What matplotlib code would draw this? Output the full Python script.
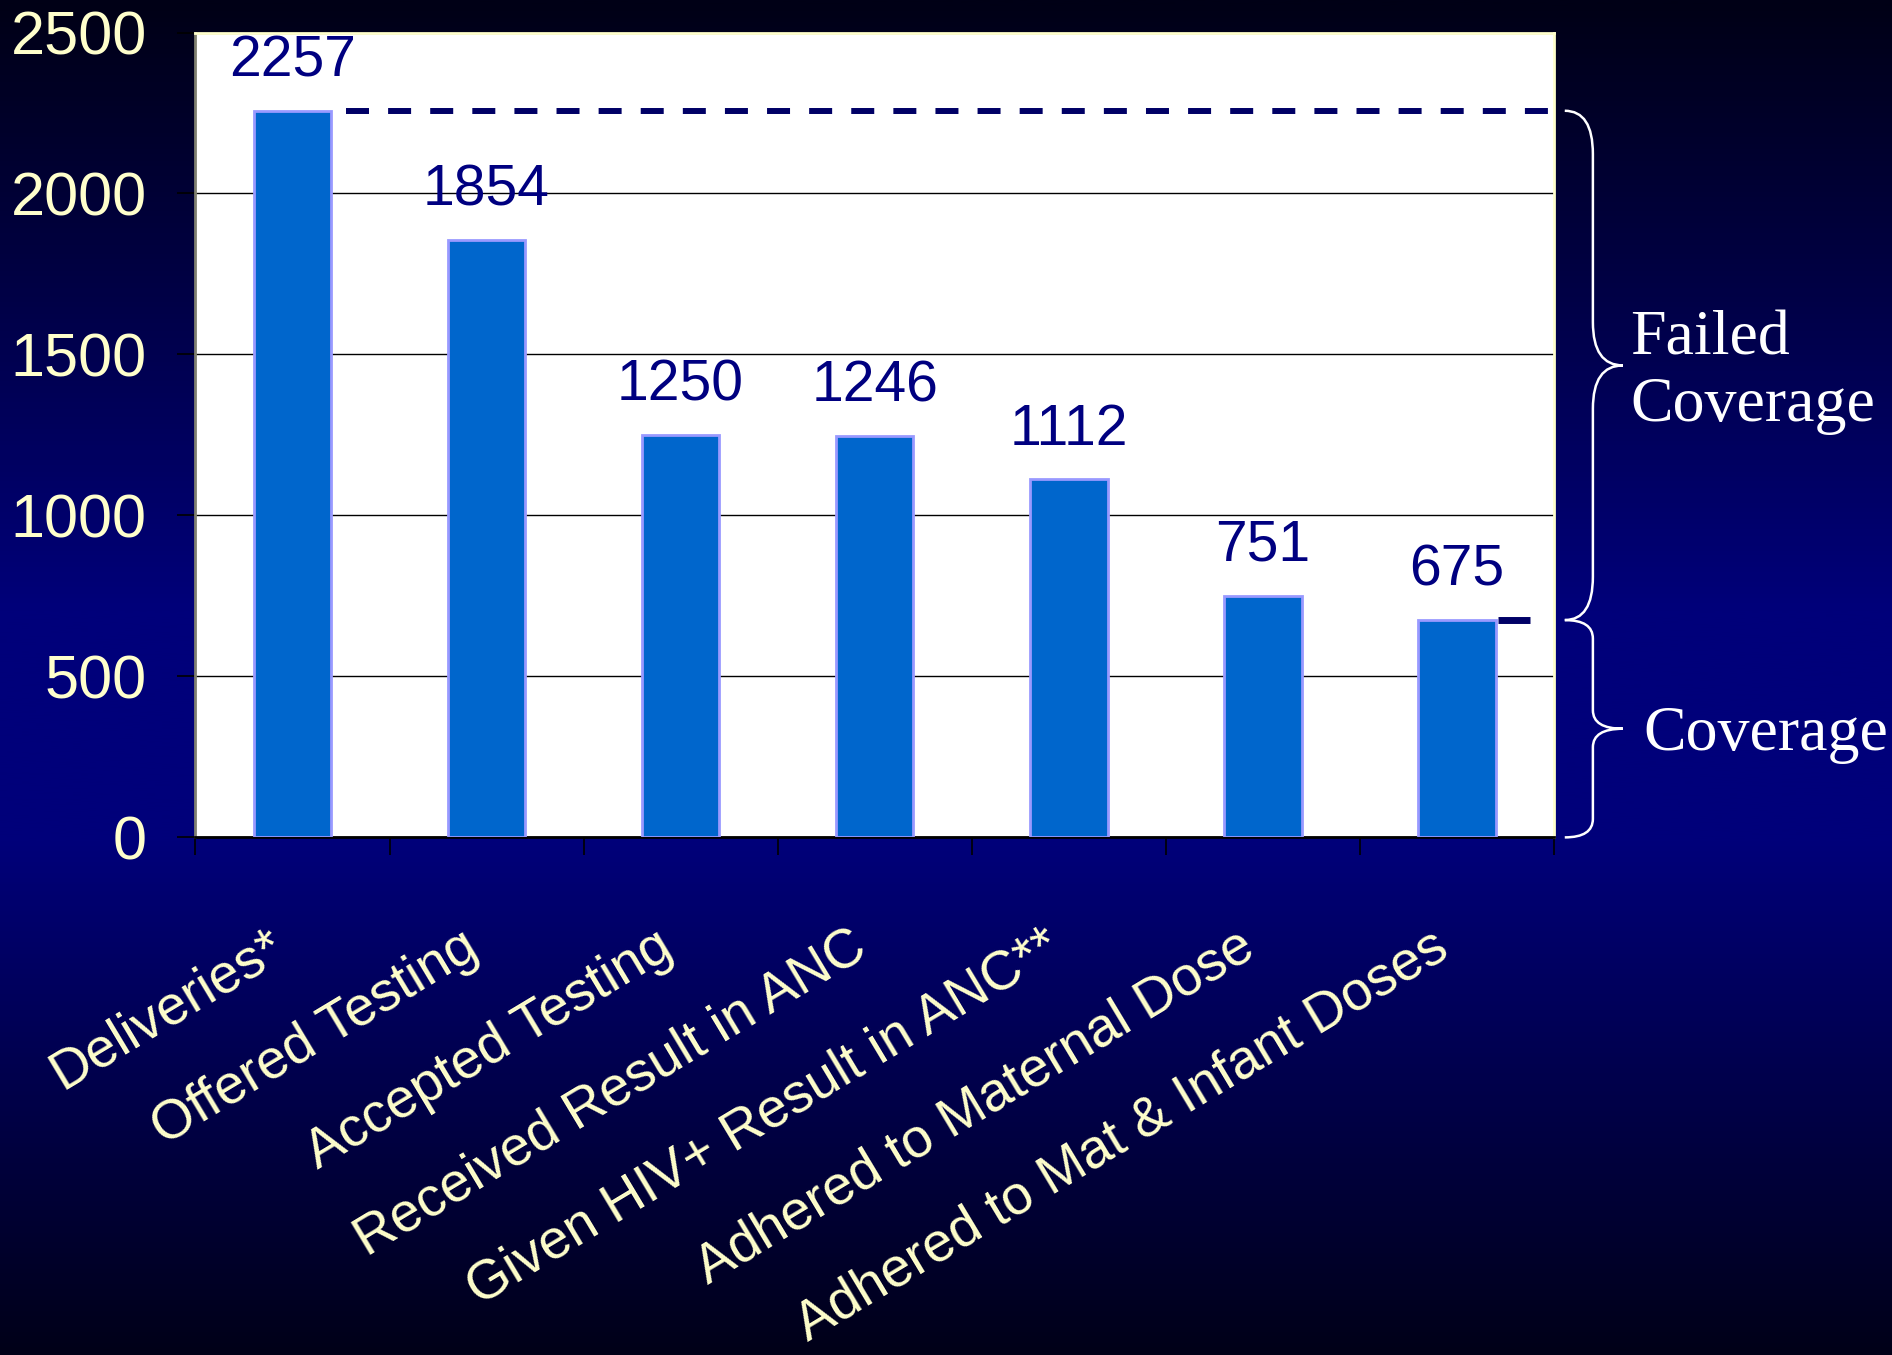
import numpy as np
import matplotlib
matplotlib.use("Agg")
import matplotlib.pyplot as plt
import matplotlib.transforms as mtransforms
from matplotlib.path import Path
from matplotlib.patches import PathPatch
from matplotlib.colors import LinearSegmentedColormap

# ---- data ----
categories = [
    "Deliveries*",
    "Offered Testing",
    "Accepted Testing",
    "Received Result in ANC",
    "Given HIV+ Result in ANC**",
    "Adhered to Maternal Dose",
    "Adhered to Mat & Infant Doses",
]
counts = [2257, 1854, 1250, 1246, 1112, 751, 675]
y_ticks = [0, 500, 1000, 1500, 2000, 2500]
bracket_labels = ["Failed\nCoverage", "Coverage"]

plt.rcParams["font.family"] = ["Liberation Sans", "DejaVu Sans"]

W, H, DPI = 1892, 1355, 100
fig = plt.figure(figsize=(W / DPI, H / DPI), dpi=DPI)

# slide background: dark at the edges, navy in the middle
bg = fig.add_axes([0, 0, 1, 1], zorder=-10)
cmap = LinearSegmentedColormap.from_list(
    "slide",
    [(0.0, "#000016"), (0.45, "#00007a"), (0.62, "#00007a"), (1.0, "#000018")],
)
bg.imshow(np.linspace(0, 1, 600)[:, None], aspect="auto", cmap=cmap)
bg.set_axis_off()

ax = fig.add_axes([0.1033, 0.382, 0.718, 0.594])
ax.set_facecolor("white")
x = np.arange(len(categories))
ax.set_xlim(-0.5, len(categories) - 0.5)
ax.set_ylim(y_ticks[0], y_ticks[-1])

# gridlines and ticks
ax.set_yticks(y_ticks)
ax.set_yticklabels([str(t) for t in y_ticks])
ax.yaxis.grid(True, color="black", linewidth=1.0)
ax.set_axisbelow(True)
ax.tick_params(axis="y", length=13, width=1.2, color="black", pad=22,
               labelsize=44, labelcolor="#FFFFCC")
ax.set_xticks(np.arange(-0.5, len(categories), 1.0))
ax.set_xticklabels([])
ax.tick_params(axis="x", length=13, width=1.2, color="black")

for side in ("top", "right"):
    ax.spines[side].set_color("#FFFFCC")
    ax.spines[side].set_linewidth(2)
ax.spines["left"].set_color("#808070")
ax.spines["left"].set_linewidth(2)
ax.spines["bottom"].set_color("black")
ax.spines["bottom"].set_linewidth(2)

# bars
bar_w = 0.4
ax.bar(x, counts, width=bar_w, color="#0066CC", edgecolor="#9999FF",
       linewidth=2, zorder=3)

# value labels
for xi, v in zip(x, counts):
    ax.annotate(str(v), (xi, v), xytext=(0, 25), textcoords="offset points",
                ha="center", va="baseline", fontsize=41, color="#000080")

# category labels, rotated under the axis
lab_tr = ax.get_xaxis_transform() + mtransforms.ScaledTranslation(
    -26 / DPI, -83 / DPI, fig.dpi_scale_trans)
for xi, c in zip(x, categories):
    ax.text(xi, 0, c, transform=lab_tr, rotation=31, rotation_mode="anchor",
            ha="right", va="top", fontsize=39.5, color="#FFFFCC",
            clip_on=False)

# reference lines at the first and last step
top_v, end_v = counts[0], counts[-1]
ax.plot([x[0] + bar_w / 2 + 0.075, len(categories) - 0.53], [top_v, top_v],
        color="#000066", linewidth=4.3, linestyle=(0, (3.85, 3.2)), zorder=4)
ax.plot([x[-1] + bar_w / 2 + 0.01, x[-1] + bar_w / 2 + 0.176], [end_v, end_v],
        color="#000066", linewidth=5, solid_capstyle="butt", zorder=4)

# curly braces to the right of the plot
br_tr = mtransforms.blended_transform_factory(ax.transAxes, ax.transData)


def brace(y_top, y_bot, x_end=1.008, x_sp=1.0287, x_tip=1.0508, frac=0.085):
    r = (y_top - y_bot) * frac
    y_mid = (y_top + y_bot) / 2
    verts = [
        (x_end, y_top), (x_sp, y_top), (x_sp, y_top - r),
        (x_sp, y_mid + r),
        (x_sp, y_mid), (x_tip, y_mid),
        (x_sp, y_mid), (x_sp, y_mid - r),
        (x_sp, y_bot + r),
        (x_sp, y_bot), (x_end, y_bot),
    ]
    codes = [Path.MOVETO, Path.CURVE3, Path.CURVE3, Path.LINETO,
             Path.CURVE3, Path.CURVE3, Path.CURVE3, Path.CURVE3,
             Path.LINETO, Path.CURVE3, Path.CURVE3]
    patch = PathPatch(Path(verts, codes), transform=br_tr, facecolor="none",
                      edgecolor="white", linewidth=1.8, clip_on=False)
    ax.add_patch(patch)
    return y_mid


mid_fail = brace(top_v, end_v)
mid_cov = brace(end_v, y_ticks[0])

serif = ["Liberation Serif", "DejaVu Serif"]
ax.annotate(bracket_labels[0], (1.056, mid_fail), xycoords=br_tr,
            xytext=(0, -40.3), textcoords="offset points", ha="left",
            va="baseline", fontsize=46, color="white", family=serif,
            linespacing=1.2, annotation_clip=False)
ax.annotate(bracket_labels[1], (1.0655, mid_cov), xycoords=br_tr,
            xytext=(0, -15), textcoords="offset points", ha="left",
            va="baseline", fontsize=46, color="white", family=serif,
            annotation_clip=False)

fig.savefig("out.png", dpi=DPI)
